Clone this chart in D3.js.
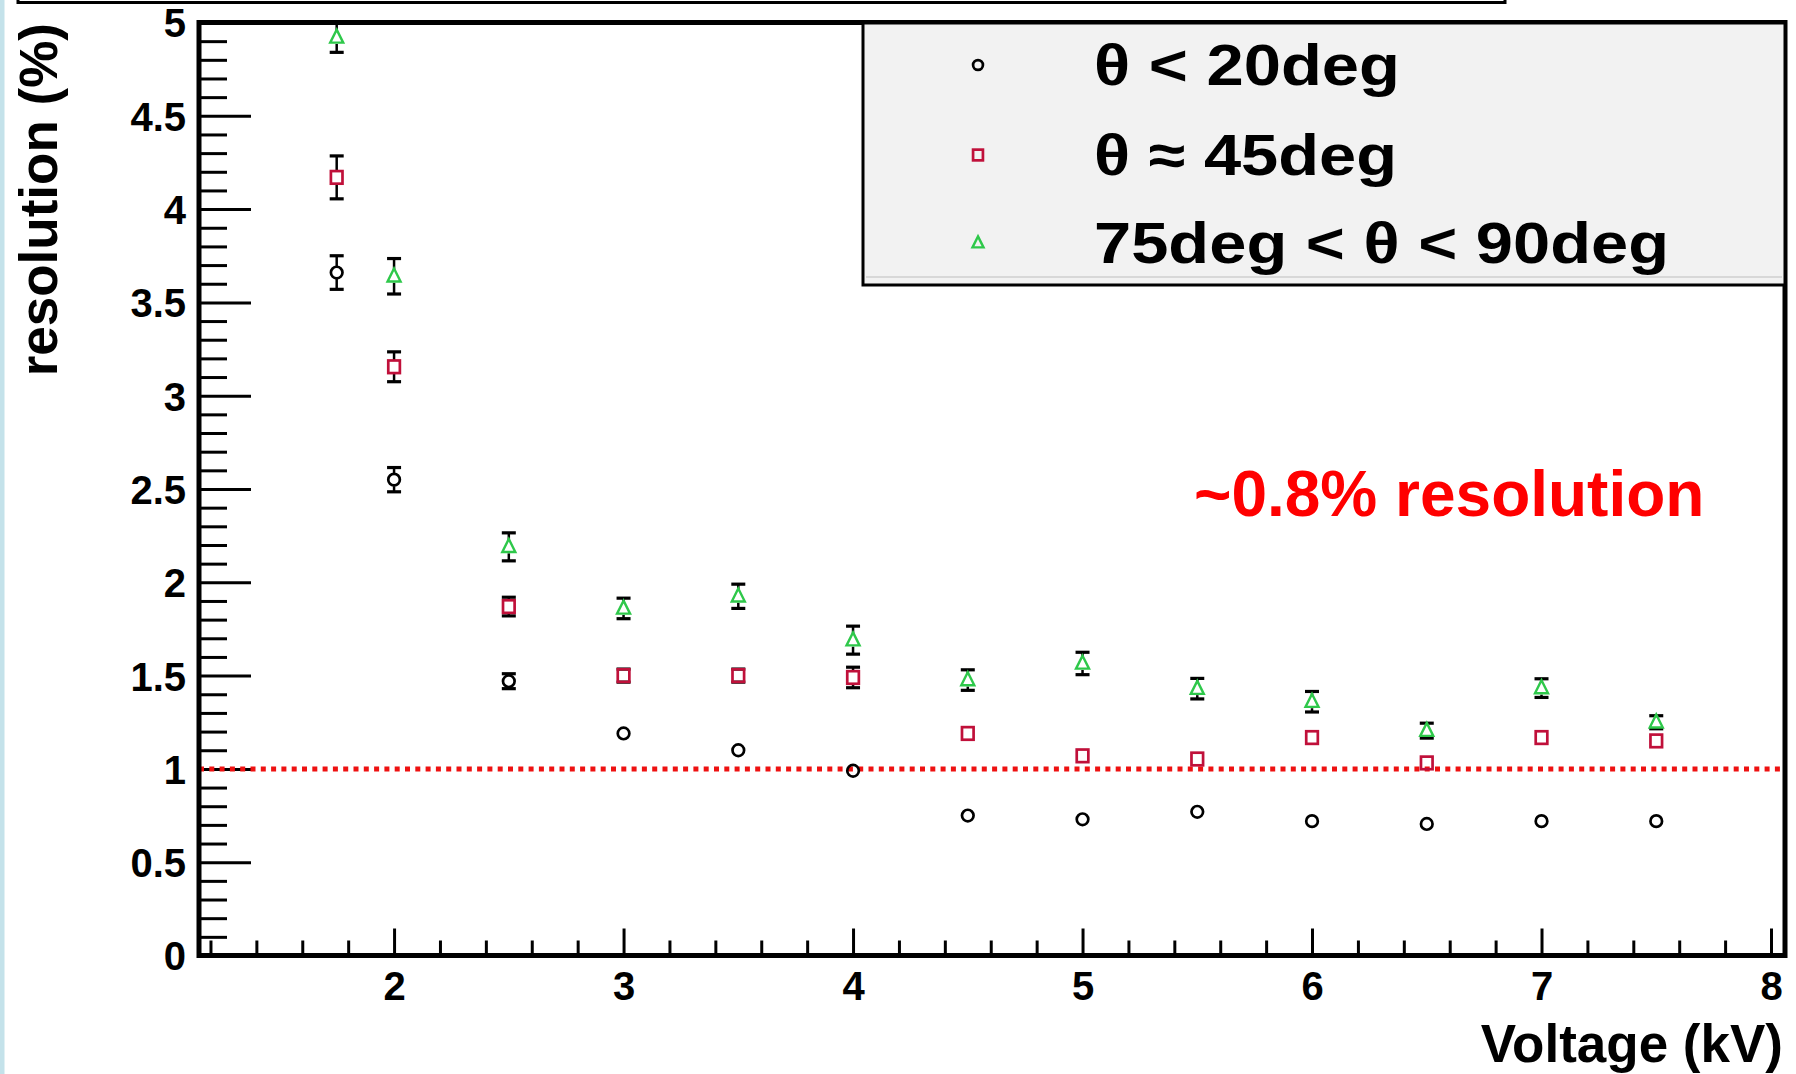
<!DOCTYPE html>
<html>
<head>
<meta charset="utf-8">
<script src="https://cdn.jsdelivr.net/npm/d3@7"></script>
<style>
  html, body { margin: 0; padding: 0; background: #ffffff; }
  svg { display: block; }
  text { font-family: "Liberation Sans", Arial, Helvetica, sans-serif; font-weight: bold; }
</style>
</head>
<body>
<svg id="chart" width="1796" height="1074"></svg>
<script>
// ---------------- data ----------------
const voltages = [1.75, 2, 2.5, 3, 3.5, 4, 4.5, 5, 5.5, 6, 6.5, 7, 7.5];

const resForward = [3.66, 2.55, 1.47, 1.19, 1.10, 0.99, 0.75, 0.73, 0.77, 0.72, 0.705, 0.72, 0.72];
const errForward = [0.09, 0.065, 0.04, 0.02, 0.02, 0.02, 0.015, 0.015, 0.015, 0.015, 0.015, 0.015, 0.015];

const res45 = [4.17, 3.155, 1.87, 1.50, 1.50, 1.49, 1.19, 1.07, 1.053, 1.168, 1.032, 1.168, 1.15];
const err45 = [0.115, 0.08, 0.05, 0.035, 0.035, 0.055, 0.025, 0.02, 0.02, 0.02, 0.02, 0.02, 0.02];

const resPerp = [4.92, 3.64, 2.19, 1.86, 1.925, 1.69, 1.476, 1.565, 1.43, 1.36, 1.205, 1.433, 1.25];
const errPerp = [0.08, 0.095, 0.075, 0.055, 0.065, 0.075, 0.055, 0.06, 0.055, 0.055, 0.04, 0.05, 0.035];

const seriesNames = ["θ < 20deg", "θ ≈ 45deg", "75deg < θ < 90deg"];
const seriesColors = ["#000000", "#c0103a", "#2ec84a"];
const seriesShapes = ["circle", "square", "triangle"];

const xTickValues = [2, 3, 4, 5, 6, 7, 8];
const xTickLabels = ["2", "3", "4", "5", "6", "7", "8"];
const yTickValues = [0, 0.5, 1, 1.5, 2, 2.5, 3, 3.5, 4, 4.5, 5];
const yTickLabels = ["0", "0.5", "1", "1.5", "2", "2.5", "3", "3.5", "4", "4.5", "5"];
const xMinorTicks = [1.2, 1.4, 1.6, 1.8, 2.2, 2.4, 2.6, 2.8, 3.2, 3.4, 3.6, 3.8, 4.2, 4.4, 4.6, 4.8,
                     5.2, 5.4, 5.6, 5.8, 6.2, 6.4, 6.6, 6.8, 7.2, 7.4, 7.6, 7.8];
const yMinorTicks = d3.range(0, 50).filter(i => i % 5 !== 0).map(i => i / 10);

const xTitle = "Voltage (kV)";
const yTitle = "resolution (%)";
const annotation = "~0.8% resolution";
const referenceLevel = 1;

// ---------------- layout ----------------
const svg = d3.select("#chart");
const L = 199, R = 1785, T = 22.5, B = 955.5;

const x = d3.scaleLinear().domain([1.15, 8.061]).range([L, R]);
const y = d3.scaleLinear().domain([0, 5]).range([B, T]);

// light blue strip at left edge
svg.append("rect").attr("x", 0).attr("y", 0).attr("width", 4.5).attr("height", 1074).attr("fill", "#c4e2ea");

// remnant of title box at top
svg.append("path")
  .attr("d", "M18,0 L18,2.5 L1505,2.5 L1505,0")
  .attr("fill", "none").attr("stroke", "#000").attr("stroke-width", 3);

// ---------------- axes ----------------
const yAxisMajor = d3.axisLeft(y).tickValues(yTickValues)
  .tickFormat((d, i) => yTickLabels[i]).tickSizeInner(-52).tickSizeOuter(0).tickPadding(13);
const yAxisMinor = d3.axisLeft(y).tickValues(yMinorTicks).tickFormat("").tickSizeInner(-28).tickSizeOuter(0);
const xAxisMajor = d3.axisBottom(x).tickValues(xTickValues)
  .tickFormat((d, i) => xTickLabels[i]).tickSizeInner(-27).tickSizeOuter(0).tickPadding(16);
const xAxisMinor = d3.axisBottom(x).tickValues(xMinorTicks).tickFormat("").tickSizeInner(-15).tickSizeOuter(0);

function styleAxis(g) {
  g.select(".domain").remove();
  g.selectAll(".tick line").attr("stroke", "#000").attr("stroke-width", 3);
  g.selectAll(".tick text").attr("fill", "#000")
    .style("font-size", "40px").style("font-weight", "bold")
    .style("font-family", "'Liberation Sans', Arial, sans-serif");
}

svg.append("g").attr("transform", `translate(${L},0)`).call(yAxisMinor).call(styleAxis);
const gy = svg.append("g").attr("transform", `translate(${L},0)`).call(yAxisMajor).call(styleAxis);
gy.selectAll(".tick text").attr("dy", "0.36em");
svg.append("g").attr("transform", `translate(0,${B})`).call(xAxisMinor).call(styleAxis);
svg.append("g").attr("transform", `translate(0,${B})`).call(xAxisMajor).call(styleAxis);

// axis titles
svg.append("text").attr("x", 1783).attr("y", 1062).attr("text-anchor", "end")
  .style("font-size", "53px").attr("fill", "#000").text(xTitle);
svg.append("text").attr("transform", "translate(57,23) rotate(-90)").attr("text-anchor", "end")
  .style("font-size", "53px").attr("fill", "#000").text(yTitle);

// reference dotted line
svg.append("line")
  .attr("x1", x.range()[0]).attr("x2", x.range()[1])
  .attr("y1", y(referenceLevel)).attr("y2", y(referenceLevel))
  .attr("stroke", "#ee1111").attr("stroke-width", 5).attr("stroke-dasharray", "5,5.3");

// annotation
svg.append("text").attr("x", 1194).attr("y", 516)
  .style("font-size", "64px").attr("fill", "#ff0000").text(annotation);

// ---------------- markers ----------------
function drawMarker(g, shape, cx, cy, color, s) {
  if (shape === "circle") {
    g.append("circle").attr("cx", cx).attr("cy", cy).attr("r", 5.8 * s)
      .attr("fill", "none").attr("stroke", color).attr("stroke-width", 2.7);
  } else if (shape === "square") {
    g.append("rect").attr("x", cx - 5.8 * s).attr("y", cy - 6.3 * s)
      .attr("width", 11.6 * s).attr("height", 12.6 * s)
      .attr("fill", "none").attr("stroke", color).attr("stroke-width", 2.7);
  } else {
    const h = 13 * s, w = 13 * s;
    g.append("path")
      .attr("d", `M${cx},${cy - h * 0.6} L${cx + w / 2},${cy + h * 0.4} L${cx - w / 2},${cy + h * 0.4} Z`)
      .attr("fill", "none").attr("stroke", color).attr("stroke-width", 2.4);
  }
}

const seriesData = [
  { vals: resForward, errs: errForward },
  { vals: res45, errs: err45 },
  { vals: resPerp, errs: errPerp }
];

const pts = svg.append("g");
seriesData.forEach((s, si) => {
  voltages.forEach((v, i) => {
    const cx = x(v), cy = y(s.vals[i]);
    const ePx = y(s.vals[i] - s.errs[i]) - cy;
    const half = 6.5;
    const g = pts.append("g");
    if (ePx > half) {
      g.append("line").attr("x1", cx).attr("x2", cx).attr("y1", cy - ePx).attr("y2", cy - half)
        .attr("stroke", "#000").attr("stroke-width", 2.5);
      g.append("line").attr("x1", cx).attr("x2", cx).attr("y1", cy + half).attr("y2", cy + ePx)
        .attr("stroke", "#000").attr("stroke-width", 2.5);
    }
    if (ePx >= 6) {
      [cy - ePx, cy + ePx].forEach(yy => {
        g.append("line").attr("x1", cx - 7).attr("x2", cx + 7).attr("y1", yy).attr("y2", yy)
          .attr("stroke", "#000").attr("stroke-width", 3.2);
      });
    }
    drawMarker(g, seriesShapes[si], cx, cy, seriesColors[si], 1);
  });
});

// ---------------- frame ----------------
svg.append("rect").attr("x", L).attr("y", T).attr("width", R - L).attr("height", B - T)
  .attr("fill", "none").attr("stroke", "#000").attr("stroke-width", 5);

// ---------------- legend ----------------
const leg = svg.append("g");
leg.append("rect").attr("x", 863).attr("y", 23).attr("width", 1785 - 863).attr("height", 262)
  .attr("fill", "#f2f2f2").attr("stroke", "#000").attr("stroke-width", 3);
leg.append("line").attr("x1", 866).attr("x2", 1782).attr("y1", 277).attr("y2", 277)
  .attr("stroke", "#cfcfcf").attr("stroke-width", 1.5);
const legRows = [65, 155, 243];
const legBase = [85, 175, 263];
const legLen = [306, 303, 575];
seriesNames.forEach((name, i) => {
  drawMarker(leg, seriesShapes[i], 978, legRows[i], seriesColors[i], 0.85);
  leg.append("text").attr("x", 1094).attr("y", legBase[i])
    .style("font-size", "58px").attr("fill", "#000")
    .attr("textLength", legLen[i]).attr("lengthAdjust", "spacingAndGlyphs")
    .text(name);
});
</script>
</body>
</html>
